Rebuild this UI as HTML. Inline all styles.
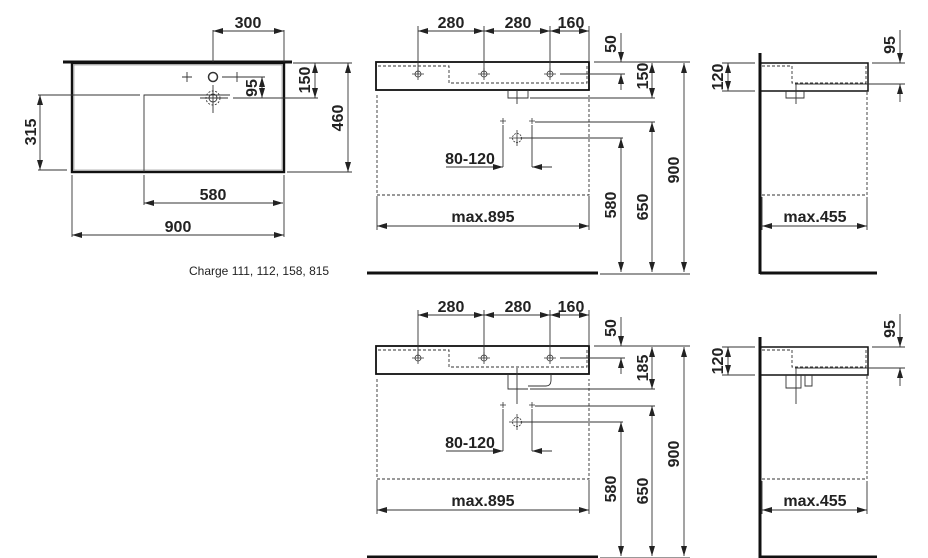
<!DOCTYPE html>
<html><head><meta charset="utf-8"><style>
html,body{margin:0;padding:0;background:#fff}
svg{display:block}
text{font-family:"Liberation Sans",Arial,sans-serif;font-weight:bold;font-size:16px;fill:#222}
</style></head><body>
<svg width="928" height="558" viewBox="0 0 928 558" xmlns="http://www.w3.org/2000/svg">
<defs>
<marker id="a" viewBox="0 0 10 6" refX="10" refY="3" markerWidth="10" markerHeight="6" markerUnits="userSpaceOnUse" orient="auto-start-reverse"><path d="M0,0L10,3L0,6z" fill="#222"/></marker>
<g id="xh"><circle r="3" fill="none" stroke="#333" stroke-width="0.8"/><path d="M-6,0H6M0,-6V6" stroke="#333" stroke-width="0.8"/></g>
</defs>
<g stroke="#333" stroke-width="0.9" fill="none">
<line x1="63" y1="62" x2="292" y2="62" stroke-width="3" stroke="#111"/>
<rect x="72" y="63" width="212" height="109" stroke-width="2.4" stroke="#111"/>
<rect x="74" y="65" width="208" height="105" stroke="#888" stroke-width="0.6"/>
<path d="M144,172V95H230"/>
<circle cx="213" cy="77" r="4.5" stroke-width="1.5"/>
<path d="M182,77H192M187,72V82M222,77H242M237,72V82"/>
<circle cx="213" cy="98" r="7" stroke-dasharray="2 1.5"/>
<circle cx="213" cy="98" r="4"/>
<path d="M200,98H228M213,85V113"/>
<path d="M213,30V62M284,30V62"/>
<line x1="213" y1="31" x2="284" y2="31" marker-start="url(#a)" marker-end="url(#a)"/>
<path d="M222,77H265M233,98H318M293,63H352M287,172H352M38,95H140M38,170H67M144,175V205M284,175V237M72,175V237"/>
<line x1="315" y1="63" x2="315" y2="98" marker-start="url(#a)" marker-end="url(#a)"/>
<line x1="262" y1="77" x2="262" y2="98" marker-start="url(#a)" marker-end="url(#a)"/>
<line x1="348" y1="63" x2="348" y2="172" marker-start="url(#a)" marker-end="url(#a)"/>
<line x1="40" y1="95" x2="40" y2="170" marker-start="url(#a)" marker-end="url(#a)"/>
<line x1="144" y1="203" x2="283" y2="203" marker-start="url(#a)" marker-end="url(#a)"/>
<line x1="72" y1="235" x2="284" y2="235" marker-start="url(#a)" marker-end="url(#a)"/>
</g>
<text x="248" y="28" text-anchor="middle">300</text>
<text x="213" y="200" text-anchor="middle">580</text>
<text x="178" y="232" text-anchor="middle">900</text>
<text transform="translate(310,80) rotate(-90)" text-anchor="middle">150</text>
<text transform="translate(257,88) rotate(-90)" text-anchor="middle">95</text>
<text transform="translate(343,118) rotate(-90)" text-anchor="middle">460</text>
<text transform="translate(36,132) rotate(-90)" text-anchor="middle">315</text>
<text x="189" y="275" style="font-weight:normal;font-size:12px">Charge 111, 112, 158, 815</text>

<g id="fv">
<g stroke="#333" stroke-width="0.9" fill="none">
<rect x="376" y="62" width="213" height="28" stroke-width="1.8" stroke="#111"/>
<path d="M378,66H449V83H587V66" stroke-dasharray="3 2"/>
<path d="M377,95V195H589V95" stroke-dasharray="3 2"/>
<path d="M418,26V74M484,26V74M550,26V74M589,26V62"/>
<line x1="418" y1="31" x2="484" y2="31" marker-start="url(#a)" marker-end="url(#a)"/>
<line x1="484" y1="31" x2="550" y2="31" marker-start="url(#a)" marker-end="url(#a)"/>
<line x1="550" y1="31" x2="589" y2="31" marker-start="url(#a)" marker-end="url(#a)"/>
<path d="M560,74H625M594,62H690M535,122H655M520,138H623M600,274H690"/>
<line x1="621" y1="33" x2="621" y2="62" marker-end="url(#a)"/>
<line x1="621" y1="90" x2="621" y2="74" marker-end="url(#a)"/>
<line x1="684" y1="63" x2="684" y2="272" marker-start="url(#a)" marker-end="url(#a)"/>
<line x1="652" y1="122" x2="652" y2="272" marker-start="url(#a)" marker-end="url(#a)"/>
<line x1="621" y1="138" x2="621" y2="272" marker-start="url(#a)" marker-end="url(#a)"/>
<path d="M503,125V167M532,125V167M377,196V230M589,196V230"/>
<line x1="446" y1="167" x2="503" y2="167" marker-end="url(#a)"/>
<line x1="552" y1="167" x2="532" y2="167" marker-end="url(#a)"/>
<line x1="377" y1="226" x2="589" y2="226" marker-start="url(#a)" marker-end="url(#a)"/>
<line x1="367" y1="273" x2="598" y2="273" stroke-width="3" stroke="#111"/>
<line x1="760" y1="53" x2="760" y2="274" stroke-width="3" stroke="#111"/>
<line x1="760" y1="273" x2="877" y2="273" stroke-width="3" stroke="#111"/>
<path d="M760,63H868V91H760" stroke-width="1.5" stroke="#111"/>
<path d="M762,66H792V83H866V66" stroke-dasharray="3 2"/>
<path d="M867,92V195H762" stroke-dasharray="3 2"/>
<path d="M722,63H755M722,91H755M872,63H905M795,84H905M762,197V230M867,197V230"/>
<line x1="728" y1="63" x2="728" y2="91" marker-start="url(#a)" marker-end="url(#a)"/>
<line x1="900" y1="30" x2="900" y2="63" marker-end="url(#a)"/>
<line x1="900" y1="102" x2="900" y2="84" marker-end="url(#a)"/>
<line x1="762" y1="226" x2="867" y2="226" marker-start="url(#a)" marker-end="url(#a)"/>
</g>
<use href="#xh" x="418" y="74"/><use href="#xh" x="484" y="74"/><use href="#xh" x="550" y="74"/>
<g stroke="#333" stroke-width="0.8"><path d="M500,121H506M503,118V124M529,121H535M532,118V124"/></g>
<g transform="translate(517,138)"><circle r="4.5" fill="none" stroke="#333" stroke-width="0.8" stroke-dasharray="2 1"/><path d="M-8,0H8M0,-8V8" stroke="#333" stroke-width="0.8"/></g>
<text x="451" y="28" text-anchor="middle">280</text>
<text x="518" y="28" text-anchor="middle">280</text>
<text x="571" y="28" text-anchor="middle">160</text>
<text x="470" y="164" text-anchor="middle">80-120</text>
<text x="483" y="222" text-anchor="middle">max.895</text>
<text x="815" y="222" text-anchor="middle">max.455</text>
<text transform="translate(616,44) rotate(-90)" text-anchor="middle">50</text>
<text transform="translate(679,170) rotate(-90)" text-anchor="middle">900</text>
<text transform="translate(648,207) rotate(-90)" text-anchor="middle">650</text>
<text transform="translate(616,205) rotate(-90)" text-anchor="middle">580</text>
<text transform="translate(723,77) rotate(-90)" text-anchor="middle">120</text>
<text transform="translate(895,45) rotate(-90)" text-anchor="middle">95</text>
</g>
<g stroke="#333" stroke-width="0.9" fill="none">
<path d="M508,90V98H528V90M517,90V104"/>
<path d="M530,98H655"/>
<line x1="652" y1="63" x2="652" y2="98" marker-start="url(#a)" marker-end="url(#a)"/>
<path d="M786,91V98H804V91M796,84V104"/>
</g>
<text transform="translate(648,76) rotate(-90)" text-anchor="middle">150</text>
<g transform="translate(0,284)">
<use href="#fv"/>
<g stroke="#333" stroke-width="0.9" fill="none">
<path d="M508,90V105H528M528,102H546Q551,102 551,96V90M517,84V120"/>
<path d="M530,105H655"/>
<line x1="652" y1="63" x2="652" y2="105" marker-start="url(#a)" marker-end="url(#a)"/>
<path d="M786,91V104H801V91M805,91V102H812V91M796,84V120"/>
</g>
<text transform="translate(648,84) rotate(-90)" text-anchor="middle">185</text>
</g>
</svg>
</body></html>
